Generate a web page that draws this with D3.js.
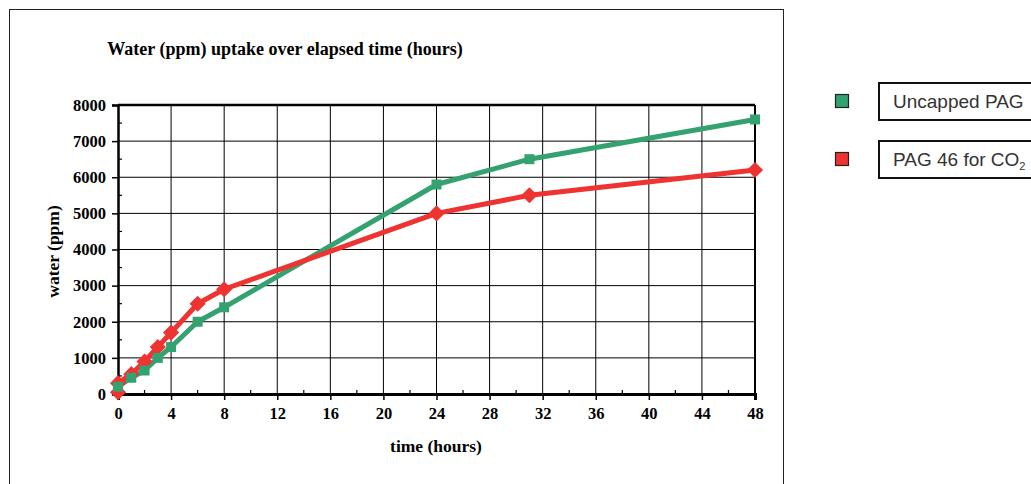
<!DOCTYPE html>
<html><head><meta charset="utf-8">
<script src="https://cdn.jsdelivr.net/npm/d3@7"></script>
<style>body{margin:0;background:#fff}svg{display:block}</style>
</head><body>
<svg id="c" width="1031" height="484"></svg>
<script>
const xTicks = [0,4,8,12,16,20,24,28,32,36,40,44,48];
const yTicks = [0,1000,2000,3000,4000,5000,6000,7000,8000];
const greenHours = [0,1,2,3,4,6,8,24,31,48];
const greenWater = [200,450,650,1000,1300,2000,2400,5800,6500,7600];
const redHours = [0,0,1,2,3,4,6,8,24,31,48];
const redWater = [50,300,550,900,1300,1700,2500,2900,5000,5500,6200];
const seriesNames = ["Uncapped PAG","PAG 46 for CO"];
const titleText = "Water (ppm) uptake over elapsed time (hours)";

const svg = d3.select("#c");
const x = d3.scaleLinear().domain([0,48]).range([118,755]);
const y = d3.scaleLinear().domain([0,8000]).range([394,105]);
const green="#34a170", red="#ee3331";
const serif="'Liberation Serif','Times New Roman',serif";
const sans="'Liberation Sans',Arial,sans-serif";

// outer frame
svg.append("rect").attr("x",9.5).attr("y",9.5).attr("width",774).attr("height",490)
  .attr("fill","none").attr("stroke","#222").attr("stroke-width",1);

// title
svg.append("text").attr("x",285).attr("y",55).attr("text-anchor","middle")
  .attr("font-family",serif).attr("font-weight","bold").attr("font-size",18).text(titleText);

// grid
const g = svg.append("g");
g.selectAll(".vg").data(xTicks.slice(1)).join("line")
  .attr("x1",d=>x(d)).attr("x2",d=>x(d)).attr("y1",y(8000)).attr("y2",y(0))
  .attr("stroke","#000").attr("stroke-width",d=>d===48?2:1);
g.selectAll(".hg").data(yTicks.slice(1)).join("line")
  .attr("x1",x(0)).attr("x2",x(48)).attr("y1",d=>y(d)).attr("y2",d=>y(d))
  .attr("stroke","#000").attr("stroke-width",d=>d===8000?2.5:1);

// axes
const yAxis = d3.axisLeft(y).tickValues(yTicks).tickFormat(d3.format("d")).tickSize(6).tickPadding(6);
const ya = svg.append("g").attr("transform",`translate(${x(0)},0)`).call(yAxis);
ya.select(".domain").attr("stroke-width",2.5).attr("stroke","#000");
ya.selectAll(".tick line").attr("stroke-width",1.5);
ya.selectAll("text").attr("font-family",serif).attr("font-weight","bold").attr("font-size",16.5).attr("fill","#000");
svg.append("g").selectAll("line").data(d3.range(500,8000,1000)).join("line")
  .attr("x1",x(0)).attr("x2",x(0)+4).attr("y1",d=>y(d)).attr("y2",d=>y(d)).attr("stroke","#000").attr("stroke-width",1.2);

const xAxis = d3.axisBottom(x).tickValues(xTicks).tickFormat(d3.format("d")).tickSize(6).tickPadding(7);
const xa = svg.append("g").attr("transform",`translate(0,${y(0)})`).call(xAxis);
xa.select(".domain").attr("stroke-width",3).attr("stroke","#000");
xa.selectAll(".tick line").attr("stroke-width",1.5);
xa.selectAll("text").attr("font-family",serif).attr("font-weight","bold").attr("font-size",16.5).attr("fill","#000");
svg.append("g").selectAll("line").data(d3.range(2,48,4)).join("line")
  .attr("x1",d=>x(d)).attr("x2",d=>x(d)).attr("y1",y(0)).attr("y2",y(0)-4).attr("stroke","#000").attr("stroke-width",1.2);

// axis titles
svg.append("text").attr("x",436).attr("y",452).attr("text-anchor","middle")
  .attr("font-family",serif).attr("font-weight","bold").attr("font-size",17.5).text("time (hours)");
svg.append("text").attr("transform",`translate(59,${y(4000)+2}) rotate(-90)`).attr("text-anchor","middle")
  .attr("font-family",serif).attr("font-weight","bold").attr("font-size",17.5).text("water (ppm)");

// series
const line = d3.line().x(d=>x(d[0])).y(d=>y(d[1]));
const gData = greenHours.map((h,i)=>[h,greenWater[i]]);
const rData = redHours.map((h,i)=>[h,redWater[i]]);

svg.append("path").datum(gData).attr("d",line).attr("fill","none").attr("stroke",green).attr("stroke-width",5).attr("stroke-linejoin","round");
svg.append("path").datum(rData).attr("d",line).attr("fill","none").attr("stroke",red).attr("stroke-width",5).attr("stroke-linejoin","round");
svg.append("g").selectAll("path").data(rData).join("path")
  .attr("d",d3.symbol(d3.symbolSquare,130)).attr("fill",red)
  .attr("transform",d=>`translate(${x(d[0])},${y(d[1])}) rotate(45)`);
svg.append("g").selectAll("rect").data(gData).join("rect")
  .attr("x",d=>x(d[0])-5).attr("y",d=>y(d[1])-5).attr("width",10).attr("height",10).attr("fill",green);

// legend
const lg = svg.append("g");
const legY=[101,159];
const legC=[green,red];
[0,1].forEach(i=>{
  lg.append("rect").attr("x",835.5).attr("y",legY[i]-6.5).attr("width",13).attr("height",13)
    .attr("fill",legC[i]).attr("stroke","#222").attr("stroke-width",1.2);
  lg.append("rect").attr("x",879).attr("y",legY[i]-18).attr("width",170).attr("height",37)
    .attr("fill","#fff").attr("stroke","#111").attr("stroke-width",2);
  const t = lg.append("text").attr("x",893).attr("y",legY[i]+7).attr("font-family",sans)
    .attr("font-size",19).attr("fill","#333").text(seriesNames[i]);
  if(i===1) t.append("tspan").attr("font-size",11).attr("dy",4).text("2");
});
</script>
</body></html>
